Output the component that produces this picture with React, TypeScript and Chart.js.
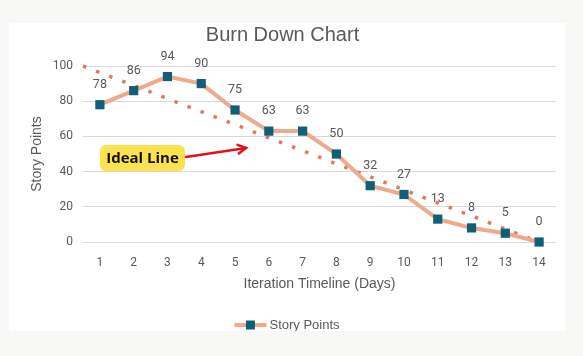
import React, { useEffect, useRef } from 'react';
import { Chart, registerables } from 'chart.js';

Chart.register(...registerables);

// ---- data ----
const days = [1, 2, 3, 4, 5, 6, 7, 8, 9, 10, 11, 12, 13, 14];
const storyPoints = [78, 86, 94, 90, 75, 63, 63, 50, 32, 27, 13, 8, 5, 0];
const idealDays = [0.5, 14];
const idealPoints = [100, 0];
const yTicks = [0, 20, 40, 60, 80, 100];

const TITLE = 'Burn Down Chart';
const X_TITLE = 'Iteration Timeline (Days)';
const Y_TITLE = 'Story Points';
const SERIES_NAME = 'Story Points';
const CALLOUT_TEXT = 'Ideal Line';

// ---- styles ----
const FONT = "Roboto, 'Open Sans', sans-serif";
const NARROW = "'Liberation Sans Narrow', 'Liberation Sans', sans-serif";
const GREY = '#595959';
const LINE_COLOR = '#EFAA8C';
const MARKER_COLOR = '#0F5F78';
const IDEAL_COLOR = '#E07A5F';

const W = 556;
const H = 308;

const dataLabelPlugin = {
  id: 'dataLabels',
  afterDatasetsDraw(chart: any) {
    const { ctx } = chart;
    const meta = chart.getDatasetMeta(0);
    ctx.save();
    ctx.font = `12.5px ${FONT}`;
    ctx.fillStyle = GREY;
    ctx.textAlign = 'center';
    ctx.textBaseline = 'middle';
    meta.data.forEach((pt: any, i: number) => {
      ctx.fillText(String(storyPoints[i]), pt.x, pt.y - 20);
    });
    ctx.restore();
  },
};

const legendPlugin = {
  id: 'customLegend',
  afterDraw(chart: any) {
    const { ctx } = chart;
    ctx.save();
    ctx.font = `13px ${NARROW}`;
    const tw = ctx.measureText(SERIES_NAME).width;
    const iconW = 32;
    const gap = 3;
    const total = iconW + gap + tw;
    const left = W / 2 - total / 2;
    const cy = 302;
    ctx.strokeStyle = LINE_COLOR;
    ctx.lineWidth = 4;
    ctx.beginPath();
    ctx.moveTo(left, cy);
    ctx.lineTo(left + iconW, cy);
    ctx.stroke();
    ctx.fillStyle = MARKER_COLOR;
    ctx.fillRect(left + iconW / 2 - 4.5, cy - 4.5, 9, 9);
    ctx.fillStyle = GREY;
    ctx.textAlign = 'left';
    ctx.textBaseline = 'middle';
    ctx.fillText(SERIES_NAME, left + iconW + gap, cy);
    ctx.restore();
  },
};

const calloutPlugin = {
  id: 'callout',
  afterDraw(chart: any) {
    const { ctx } = chart;
    ctx.save();
    const bx = 91, by = 122, bw = 85, bh = 26, r = 6;
    ctx.beginPath();
    ctx.moveTo(bx + r, by);
    ctx.arcTo(bx + bw, by, bx + bw, by + bh, r);
    ctx.arcTo(bx + bw, by + bh, bx, by + bh, r);
    ctx.arcTo(bx, by + bh, bx, by, r);
    ctx.arcTo(bx, by, bx + bw, by, r);
    ctx.closePath();
    ctx.fillStyle = '#FDE24F';
    ctx.fill();
    ctx.fillStyle = '#111111';
    ctx.font = `bold 15px 'Open Sans', sans-serif`;
    ctx.textAlign = 'center';
    ctx.textBaseline = 'middle';
    ctx.fillText(CALLOUT_TEXT, bx + bw / 2, by + bh / 2 + 1);
    const x1 = 177, y1 = 134, x2 = 237, y2 = 125;
    ctx.strokeStyle = '#E3111B';
    ctx.lineWidth = 2.5;
    ctx.lineCap = 'round';
    ctx.beginPath();
    ctx.moveTo(x1, y1);
    ctx.lineTo(x2, y2);
    ctx.stroke();
    const ang = Math.atan2(y2 - y1, x2 - x1);
    const hl = 9;
    ctx.beginPath();
    ctx.moveTo(x2 - hl * Math.cos(ang - 0.5), y2 - hl * Math.sin(ang - 0.5));
    ctx.lineTo(x2, y2);
    ctx.lineTo(x2 - hl * Math.cos(ang + 0.5), y2 - hl * Math.sin(ang + 0.5));
    ctx.stroke();
    ctx.restore();
  },
};

export default function App() {
  const canvasRef = useRef<HTMLCanvasElement>(null);

  useEffect(() => {
    document.body.style.margin = '0';
    document.body.style.background = '#F8F8F6';
    const chart = new Chart(canvasRef.current!, {
      type: 'line',
      data: {
        datasets: [
          {
            label: SERIES_NAME,
            data: days.map((d, i) => ({ x: d, y: storyPoints[i] })),
            borderColor: LINE_COLOR,
            borderWidth: 4,
            backgroundColor: MARKER_COLOR,
            pointStyle: 'rect',
            pointRadius: 6.5,
            pointBackgroundColor: MARKER_COLOR,
            pointBorderColor: MARKER_COLOR,
            pointBorderWidth: 0,
            tension: 0,
            clip: false as any,
            order: 0,
          },
          {
            label: 'Ideal',
            data: idealDays.map((d, i) => ({ x: d, y: idealPoints[i] })),
            borderColor: IDEAL_COLOR,
            borderWidth: 3.5,
            borderDash: [3.5, 10.5],
            borderCapStyle: 'butt',
            pointRadius: 0,
            tension: 0,
            clip: false as any,
            order: 1,
          },
        ],
      },
      options: {
        responsive: false,
        animation: false,
        devicePixelRatio: 1,
        layout: { padding: { left: 0, right: 9, top: 0, bottom: 38.6 } },
        plugins: {
          title: {
            display: true,
            text: TITLE,
            color: GREY,
            font: { family: NARROW, size: 20, weight: 'normal' },
            padding: { top: 0, bottom: 19 },
          },
          legend: { display: false },
          tooltip: { enabled: false },
        },
        scales: {
          x: {
            type: 'linear',
            min: 0.5,
            max: 14.5,
            afterBuildTicks: (scale: any) => {
              scale.ticks = days.map((v) => ({ value: v }));
            },
            afterFit: (scale: any) => {
              scale.height = 50.4;
            },
            grid: { display: false, drawTicks: false },
            border: { display: false },
            ticks: {
              color: GREY,
              font: { family: FONT, size: 12 },
              padding: 14,
              autoSkip: false,
              maxRotation: 0,
              callback: (v: any) => String(v),
            },
            title: {
              display: true,
              text: X_TITLE,
              color: GREY,
              font: { family: NARROW, size: 14 },
              padding: { top: 5, bottom: 0 },
            },
          },
          y: {
            min: 0,
            max: 100,
            afterBuildTicks: (scale: any) => {
              scale.ticks = yTicks.map((v) => ({ value: v }));
            },
            afterFit: (scale: any) => {
              scale.width = 74;
            },
            grid: { color: '#D9D9D9', lineWidth: 1, drawTicks: false },
            border: { display: false },
            ticks: {
              color: GREY,
              font: { family: FONT, size: 12 },
              padding: 10,
              callback: (v: any) => String(v),
            },
            title: {
              display: true,
              text: Y_TITLE,
              color: GREY,
              font: { family: NARROW, size: 14 },
              padding: { top: 20, bottom: 0 },
            },
          },
        },
      },
      plugins: [dataLabelPlugin, calloutPlugin, legendPlugin],
    });
    return () => chart.destroy();
  }, []);

  return (
    <div style={{ position: 'relative', width: 583, height: 356, background: '#F8F8F6' }}>
      <div style={{ position: 'absolute', left: 9, top: 23, width: W, height: H, background: '#FFFFFF' }}>
        <canvas ref={canvasRef} width={W} height={H} style={{ width: W, height: H, display: 'block' }} />
      </div>
    </div>
  );
}
